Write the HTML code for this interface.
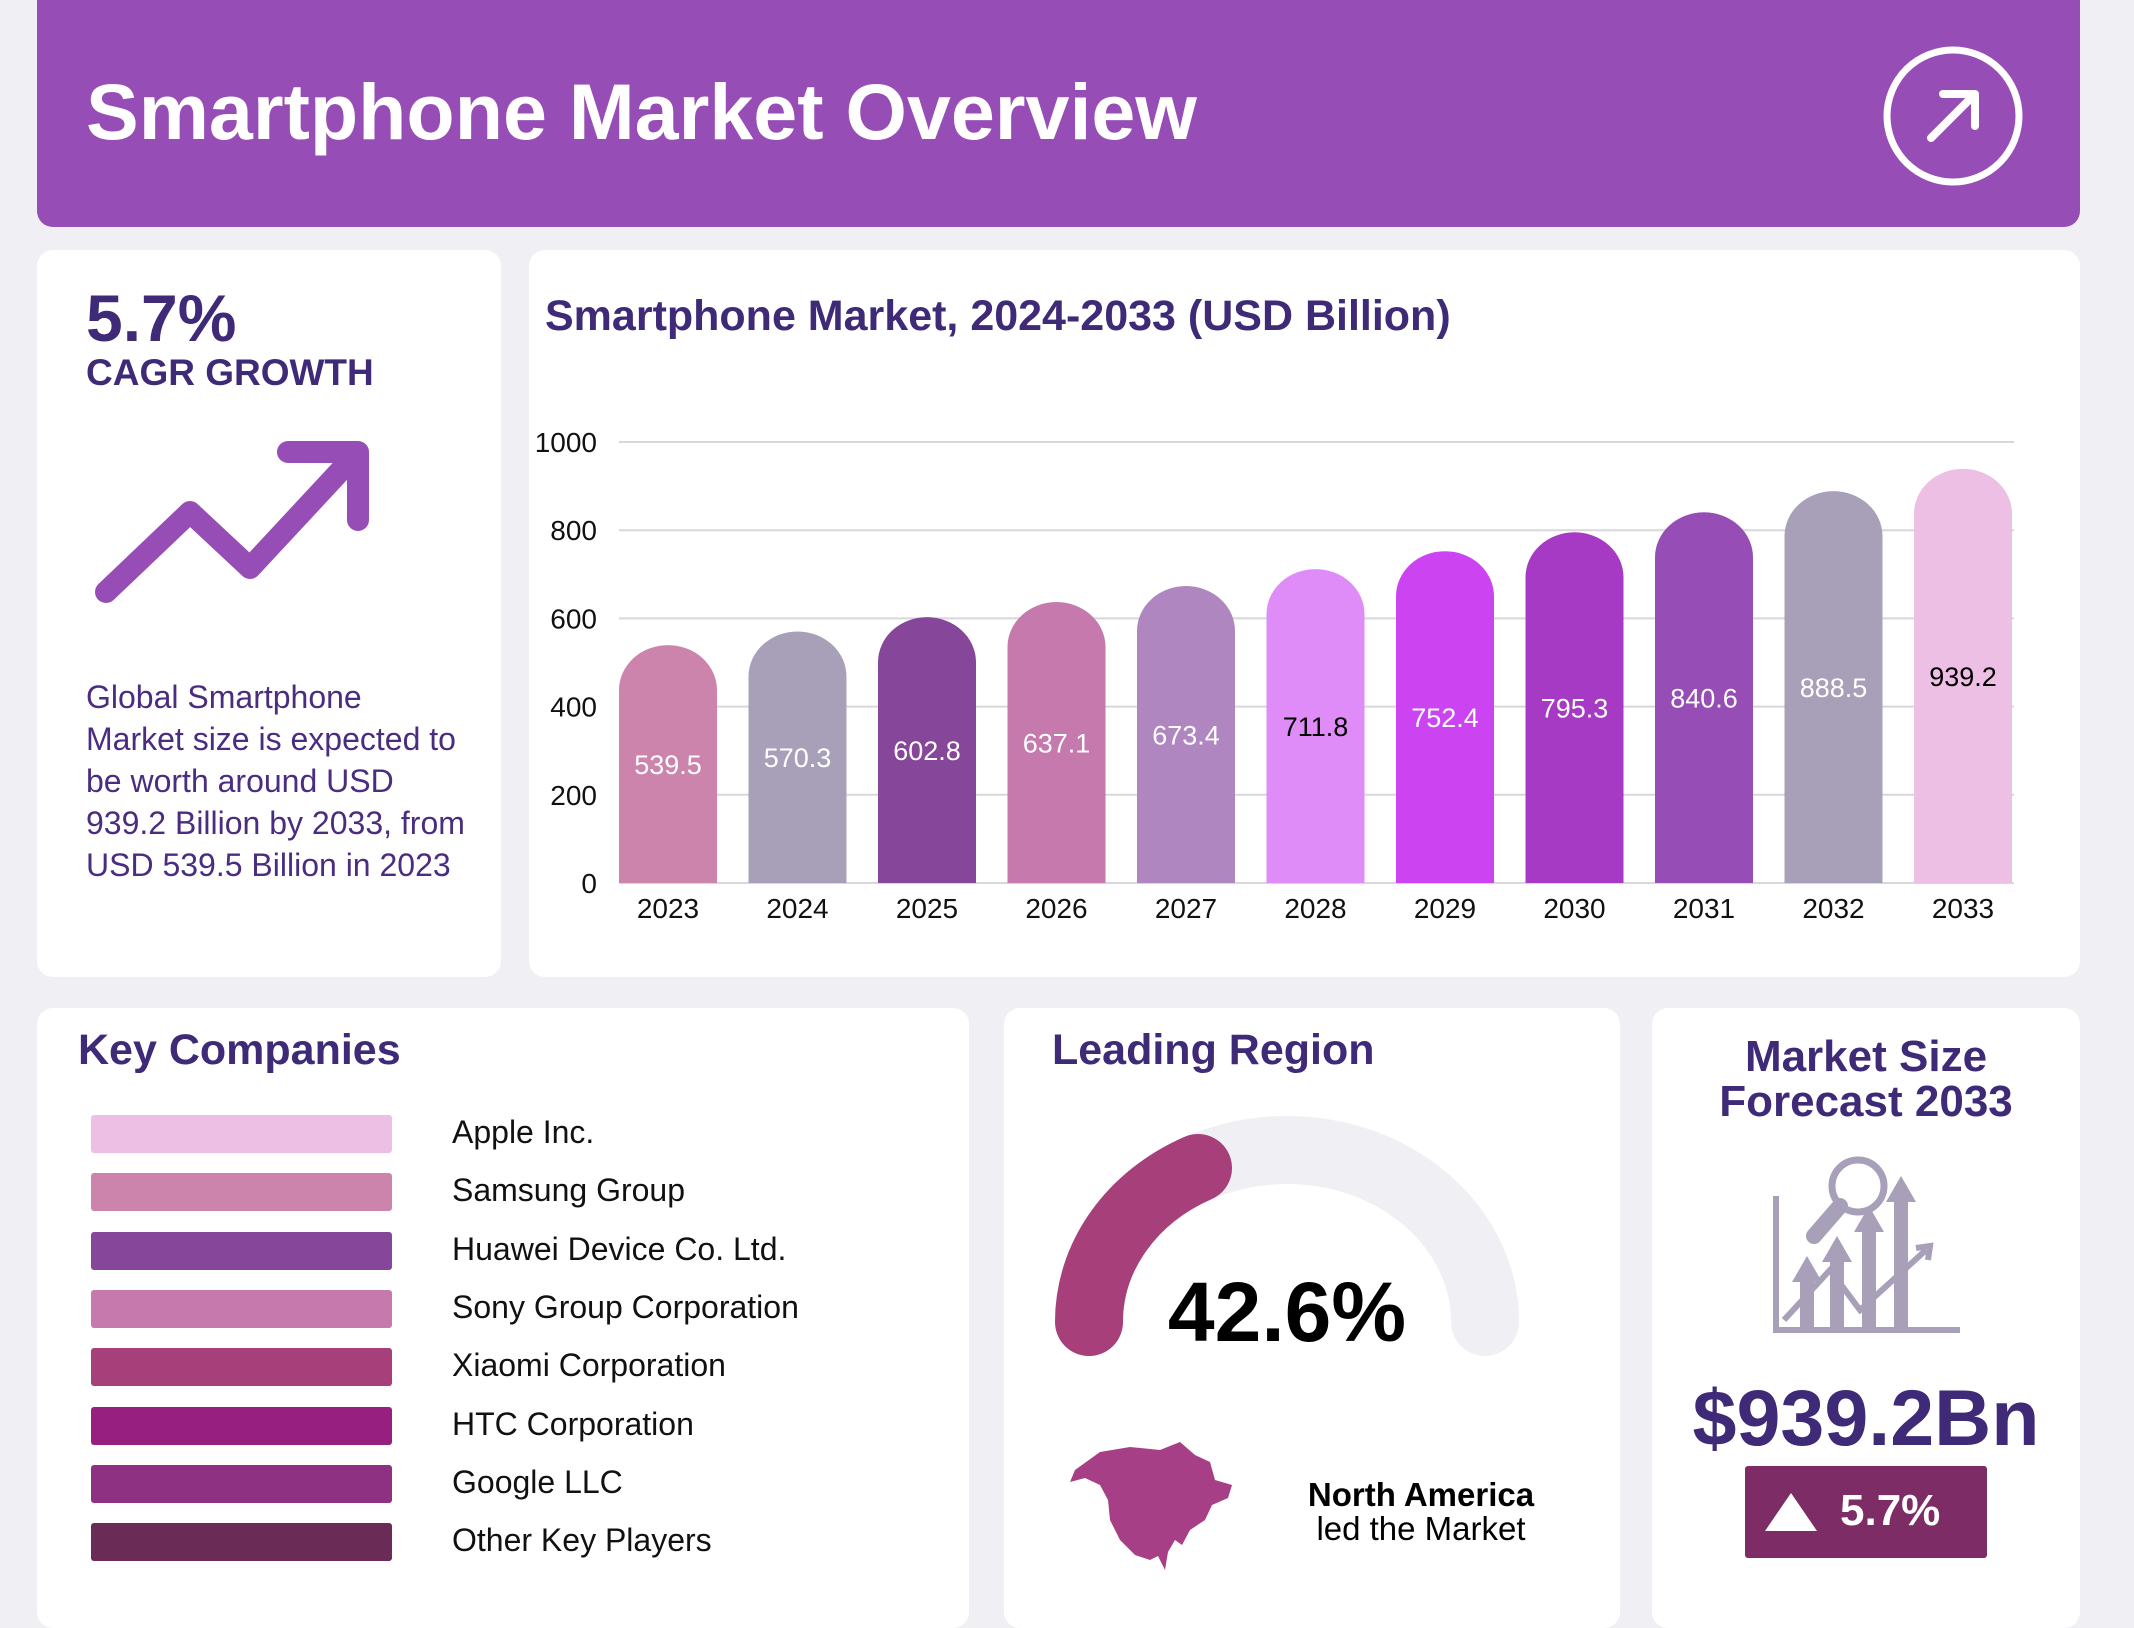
<!DOCTYPE html>
<html><head><meta charset="utf-8"><style>
body{margin:0;width:2134px;height:1600px;background:#f0eff4;font-family:"Liberation Sans",sans-serif;position:relative;overflow:hidden}
.card{position:absolute;background:#fff;border-radius:16px}
.t{position:absolute;white-space:nowrap}
.dp{color:#3f2a78}
</style></head><body>
<div class="card" style="left:37px;top:-20px;width:2043px;height:247px;background:#964db5;border-radius:16px"></div>
<div class="t" style="left:86px;top:66px;font-size:79px;font-weight:bold;color:#fff">Smartphone Market Overview</div>
<svg style="position:absolute;left:1881px;top:44px" width="144" height="144"><circle cx="72" cy="72" r="66" fill="none" stroke="#fff" stroke-width="7"/><path d="M50 94 L92 52 M62 50 H94 V82" fill="none" stroke="#fff" stroke-width="8" stroke-linecap="round" stroke-linejoin="round"/></svg>

<div class="card" style="left:37px;top:250px;width:464px;height:727px"></div>
<div class="t dp" style="left:86px;top:280px;font-size:66px;font-weight:bold">5.7%</div>
<div class="t dp" style="left:86px;top:352px;font-size:37px;font-weight:bold">CAGR GROWTH</div>
<svg style="position:absolute;left:90px;top:440px" width="290" height="170"><path d="M16 152 L100 72 L160 128 L266 14" fill="none" stroke="#964db5" stroke-width="22" stroke-linecap="round" stroke-linejoin="round"/><path d="M198 12 H268 V80" fill="none" stroke="#964db5" stroke-width="22" stroke-linecap="round" stroke-linejoin="round"/></svg>
<div class="t" style="left:86px;top:676px;font-size:32px;line-height:42px;color:#4a2d80">Global Smartphone<br>Market size is expected to<br>be worth around USD<br>939.2 Billion by 2033, from<br>USD 539.5 Billion in 2023</div>

<div class="card" style="left:529px;top:250px;width:1551px;height:727px"></div>
<div class="t dp" style="left:545px;top:292px;font-size:43px;font-weight:bold">Smartphone Market, 2024-2033 (USD Billion)</div>
<svg id="chart" style="position:absolute;left:0;top:0" width="2134" height="1000"></svg>

<div class="card" style="left:37px;top:1008px;width:932px;height:620px"></div>
<div class="t dp" style="left:78px;top:1026px;font-size:43px;font-weight:bold">Key Companies</div>
<div id="legend"></div>

<div class="card" style="left:1004px;top:1008px;width:616px;height:620px"></div>
<div class="t dp" style="left:1052px;top:1026px;font-size:43px;font-weight:bold">Leading Region</div>
<svg style="position:absolute;left:0;top:0" width="2134" height="1600">
<path d="M1089 1322 A198 172 0 0 1 1485 1322" fill="none" stroke="#f0eff4" stroke-width="68" stroke-linecap="round"/>
<path d="M1089 1322 A198 172 0 0 1 1198 1168" fill="none" stroke="#a63f7a" stroke-width="68" stroke-linecap="round"/>
<path d="M1075 1470 L1100 1452 L1130 1447 L1160 1450 L1180 1442 L1195 1455 L1210 1462 L1215 1480 L1232 1485 L1228 1498 L1212 1505 L1205 1520 L1190 1530 L1182 1545 L1175 1540 L1168 1552 L1165 1570 L1158 1556 L1150 1560 L1135 1555 L1120 1540 L1110 1520 L1108 1500 L1100 1485 L1085 1478 L1070 1482 Z" fill="#a63f85"/>
</svg>
<div class="t" style="left:1087px;width:400px;text-align:center;top:1264px;font-size:84px;font-weight:bold;color:#000">42.6%</div>
<div class="t" style="left:1271px;width:300px;text-align:center;top:1478px;font-size:33px;font-weight:bold;color:#000;line-height:34px">North America<br><span style="font-weight:normal">led the Market</span></div>

<div class="card" style="left:1652px;top:1008px;width:428px;height:620px"></div>
<div class="t dp" style="left:1652px;width:428px;text-align:center;top:1034px;font-size:44px;font-weight:bold;line-height:45px">Market Size<br>Forecast 2033</div>
<svg style="position:absolute;left:1770px;top:1150px" width="196" height="186" fill="#a89fb8" stroke="#a89fb8">
<path d="M6 46 V180 H190" fill="none" stroke-width="6"/>
<circle cx="88" cy="36" r="26" fill="none" stroke-width="7"/>
<path d="M70 56 L44 86" stroke-width="16" stroke-linecap="round"/>
<rect x="30" y="130" width="14" height="50" stroke="none"/><path d="M22 132 L37 106 L52 132Z" stroke="none"/>
<rect x="60" y="110" width="14" height="70" stroke="none"/><path d="M52 112 L67 86 L82 112Z" stroke="none"/>
<rect x="92" y="80" width="14" height="100" stroke="none"/><path d="M84 82 L99 56 L114 82Z" stroke="none"/>
<rect x="124" y="50" width="14" height="130" stroke="none"/><path d="M116 52 L131 26 L146 52Z" stroke="none"/>
<path d="M14 170 L60 120 L90 160 L156 100" fill="none" stroke-width="6"/><path d="M146 98 L160 96 L158 110" fill="none" stroke-width="6"/>
</svg>
<div class="t dp" style="left:1652px;width:428px;text-align:center;top:1372px;font-size:79px;font-weight:bold">$939.2Bn</div>
<div style="position:absolute;left:1745px;top:1466px;width:242px;height:92px;background:#7e2c66;border-radius:3px"></div>
<svg style="position:absolute;left:1765px;top:1491px" width="52" height="42"><path d="M0 40 L26 2 L52 40Z" fill="#fff"/></svg>
<div class="t" style="left:1840px;top:1486px;font-size:44px;font-weight:bold;color:#fff">5.7%</div>

<script>
const years=["2023","2024","2025","2026","2027","2028","2029","2030","2031","2032","2033"];
const values=[539.5,570.3,602.8,637.1,673.4,711.8,752.4,795.3,840.6,888.5,939.2];
const yTicks=[0,200,400,600,800,1000];
const barColors=["#cc84ac","#a89fb8","#86479a","#c579ac","#b086c0","#e08cf8","#cc44f2","#a63ac4","#964db5","#a89fb8","#edbfe4"];
const labelColors=["#fff","#fff","#fff","#fff","#fff","#000","#fff","#fff","#fff","#fff","#000"];
const companies=["Apple Inc.","Samsung Group","Huawei Device Co. Ltd.","Sony Group Corporation","Xiaomi Corporation","HTC Corporation","Google LLC","Other Key Players"];
const companyColors=["#edbfe4","#cc84ac","#86479a","#c579ac","#a63f7a","#961f80","#8e3182","#6a2b57"];

const NS="http://www.w3.org/2000/svg";
const svg=document.getElementById('chart');
const y0=883,y1=442,xL=619,pitch=129.5,bw=98;
const yS=v=>y0-(v/1000)*(y0-y1);
const xS=i=>xL+i*pitch;
function mk(t,a){const e=document.createElementNS(NS,t);for(const k in a)e.setAttribute(k,a[k]);svg.appendChild(e);return e;}
yTicks.forEach(v=>{
  const l=mk('line',{x1:xL,x2:2014,y1:yS(v),y2:yS(v),stroke:'#d8d8dc','stroke-width':2});
  
  
  const t=mk('text',{x:597,y:yS(v)+10,'text-anchor':'end','font-size':28,fill:'#111','font-family':'Liberation Sans'});
  t.textContent=v;
  
  
});
values.forEach((v,i)=>{
  const x=xS(i),top=yS(v),r=45;
  const p=mk('path',{d:`M${x} ${y0} V${top+r} A${bw/2} ${r} 0 0 1 ${x+bw} ${top+r} V${y0} Z`,fill:barColors[i]});
  
  
  const t=mk('text',{x:x+bw/2,y:(top+y0)/2+10,'text-anchor':'middle','font-size':27,fill:labelColors[i],'font-family':'Liberation Sans'});
  t.textContent=v.toFixed(1);
  
  
  const xt=mk('text',{x:x+bw/2,y:918,'text-anchor':'middle','font-size':28,fill:'#111','font-family':'Liberation Sans'});
  xt.textContent=years[i];
  
  
});
const lg=document.getElementById('legend');
companies.forEach((c,i)=>{
  const cy=1134+i*58.3;
  const s=document.createElement('div');
  
  
  s.style.cssText=`position:absolute;left:91px;top:${cy-19}px;width:301px;height:38px;background:${companyColors[i]};border-radius:3px`;
  lg.appendChild(s);
  const t=document.createElement('div');
  
  
  t.className='t';
  t.style.cssText=`left:452px;top:${cy-20}px;font-size:32px;color:#111`;
  t.textContent=c;
  lg.appendChild(t);
});
</script>
</body></html>
